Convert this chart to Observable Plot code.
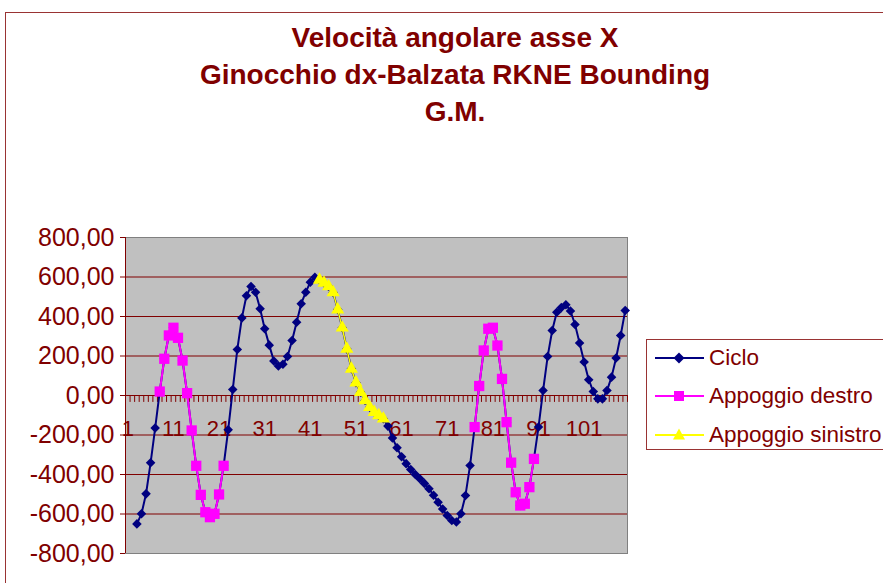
<!DOCTYPE html>
<html>
<head>
<meta charset="utf-8">
<script src="https://cdn.jsdelivr.net/npm/d3@7"></script>
<script src="https://cdn.jsdelivr.net/npm/@observablehq/plot@0.6"></script>
<style>
  html, body { margin: 0; padding: 0; background: #fff; }
  #wrap { position: relative; width: 883px; height: 583px; overflow: hidden;
          font-family: "Liberation Sans", Arial, sans-serif; background: #fff; }
  #border { position: absolute; left: 5px; top: 12px; width: 2000px; height: 2000px;
            border: 1.5px solid #993333; box-sizing: border-box; }
  #title { position: absolute; left: 0; top: 19px; width: 910px; text-align: center;
           color: #800000; font-weight: bold; font-size: 28px; line-height: 37px; }
  #chart { position: absolute; left: 0; top: 0; }
  #legend { position: absolute; left: 646px; top: 339px; width: 300px; height: 111px;
            border: 1px solid #993333; box-sizing: border-box; background: #fff; }
  .row { position: absolute; left: 8px; height: 24px; display: flex; align-items: center; }
  .row svg { display: block; }
  .row span { margin-left: 5px; color: #800000; font-size: 22.5px; white-space: nowrap; }
</style>
</head>
<body>
<div id="wrap">
  <div id="border"></div>
  <div id="chart"></div>
  <div id="title"></div>
  <div id="legend"></div>
</div>
<script>
// ---- data ----
const titleLines = ["Velocità angolare asse X", "Ginocchio dx-Balzata RKNE Bounding", "G.M."];
const seriesNames = ["Ciclo", "Appoggio destro", "Appoggio sinistro"];
const categoryCount = 110;
const xTickLabels = [1, 11, 21, 31, 41, 51, 61, 71, 81, 91, 101];
const yTicks = [-800, -600, -400, -200, 0, 200, 400, 600, 800];
const gridValues = [-600, -400, -200, 200, 400, 600];

// Ciclo: categories 3..110
const cicloStart = 3;
const ciclo = [
  -650, -599, -498, -341, -165, 20, 186, 304, 343, 292,
  177, 12, -177, -356, -503, -591, -616, -599, -501, -356,
  -174, 30, 233, 393, 505, 552, 523, 439, 338, 255,
  175, 150, 158, 197, 278, 371, 465, 523, 574, 599,
  585, 570, 552, 522, 435, 343, 236, 135, 65, 17,
  -25, -59, -84, -101, -118, -155, -215, -265, -310, -345,
  -375, -400, -422, -445, -472, -505, -540, -575, -608, -633,
  -641, -599, -506, -354, -160, 48, 228, 338, 343, 253,
  84, -135, -340, -490, -557, -548, -464, -321, -160, 25,
  197, 329, 422, 445, 460, 428, 360, 266, 170, 80,
  20, -17, -17, 25, 93, 190, 304, 430
];
// Appoggio destro: categories 8..22 and 77..90
const destro1Start = 8;
const appoggioDestro1 = [20, 186, 304, 343, 292, 177, 12, -177, -356, -503, -591, -616, -599, -501, -356];
const destro2Start = 77;
const appoggioDestro2 = [-160, 48, 228, 338, 343, 253, 84, -135, -340, -490, -557, -548, -464, -321];
// Appoggio sinistro: categories 43..57
const sinistroStart = 43;
const appoggioSinistro = [585, 570, 552, 522, 435, 343, 236, 135, 65, 17, -25, -59, -84, -101, -118];

// ---- tables ----
const rows = (vals, start, seg) => vals.map((v, i) => ({cat: start + i, value: v, seg}));
const cicloRows = rows(ciclo, cicloStart, "c");
const destroRows = rows(appoggioDestro1, destro1Start, "d1").concat(rows(appoggioDestro2, destro2Start, "d2"));
const sinistroRows = rows(appoggioSinistro, sinistroStart, "s");
const boundaries = d3.range(0, categoryCount + 1).map(k => k + 0.5);

const fmt = d => (d < 0 ? "-" : "") + Math.abs(d).toFixed(2).replace(".", ",");
const dark = "#800000";

const chart = Plot.plot({
  width: 883, height: 583,
  marginLeft: 125, marginRight: 256, marginTop: 237, marginBottom: 30,
  x: {domain: [0.5, categoryCount + 0.5], axis: null},
  y: {domain: [-800, 800], axis: null},
  style: {fontFamily: "'Liberation Sans', Arial, sans-serif", background: "transparent", overflow: "visible"},
  marks: [
    Plot.frame({fill: "#C0C0C0", stroke: "#808080"}),
    Plot.ruleY(gridValues, {stroke: dark, strokeWidth: 1}),
    Plot.ruleX([0.5], {stroke: dark}),
    Plot.ruleY([0], {stroke: dark}),
    Plot.ruleX(boundaries, {x: d => d, y1: 0, y2: -35, stroke: dark}),
    Plot.axisY({ticks: yTicks, tickFormat: fmt, label: null, fontSize: 25, fill: dark, stroke: dark, tickSize: 5, tickPadding: 6}),
    Plot.text(xTickLabels, {x: d => d, y: 0, dy: 33, text: d => String(d), fill: dark, fontSize: 22}),
    Plot.line(cicloRows, {x: "cat", y: "value", stroke: "#000080", strokeWidth: 2}),
    Plot.dot(cicloRows, {x: "cat", y: "value", symbol: "diamond2", r: 4.3, fill: "#000080"}),
    Plot.line(destroRows, {x: "cat", y: "value", z: "seg", stroke: "#FF00FF", strokeWidth: 2}),
    Plot.dot(destroRows, {x: "cat", y: "value", symbol: "square", r: 5.8, fill: "#FF00FF"}),
    Plot.line(sinistroRows, {x: "cat", y: "value", stroke: "#FFFF00", strokeWidth: 1.5}),
    Plot.dot(sinistroRows, {x: "cat", y: "value", symbol: "triangle", r: 4.9, fill: "#FFFF00"})
  ]
});
document.getElementById("chart").appendChild(chart);

// ---- title ----
const t = document.getElementById("title");
titleLines.forEach(s => { const d = document.createElement("div"); d.textContent = s; t.appendChild(d); });

// ---- legend ----
const legendStyles = [
  {color: "#000080", marker: '<polygon points="24,4.5 29.5,10 24,15.5 18.5,10" fill="#000080"/>'},
  {color: "#FF00FF", marker: '<rect x="19" y="5" width="10" height="10" fill="#FF00FF"/>'},
  {color: "#FFFF00", marker: '<polygon points="24,3.5 30,14.5 18,14.5" fill="#FFFF00"/>'}
];
const leg = document.getElementById("legend");
const rowTops = [6, 44, 83];
seriesNames.forEach((name, i) => {
  const r = document.createElement("div");
  r.className = "row";
  r.style.top = rowTops[i] + "px";
  r.innerHTML = `<svg width="49" height="20"><line x1="0" y1="10" x2="49" y2="10" stroke="${legendStyles[i].color}" stroke-width="2"/>${legendStyles[i].marker}</svg><span>${name}</span>`;
  leg.appendChild(r);
});
</script>
</body>
</html>
